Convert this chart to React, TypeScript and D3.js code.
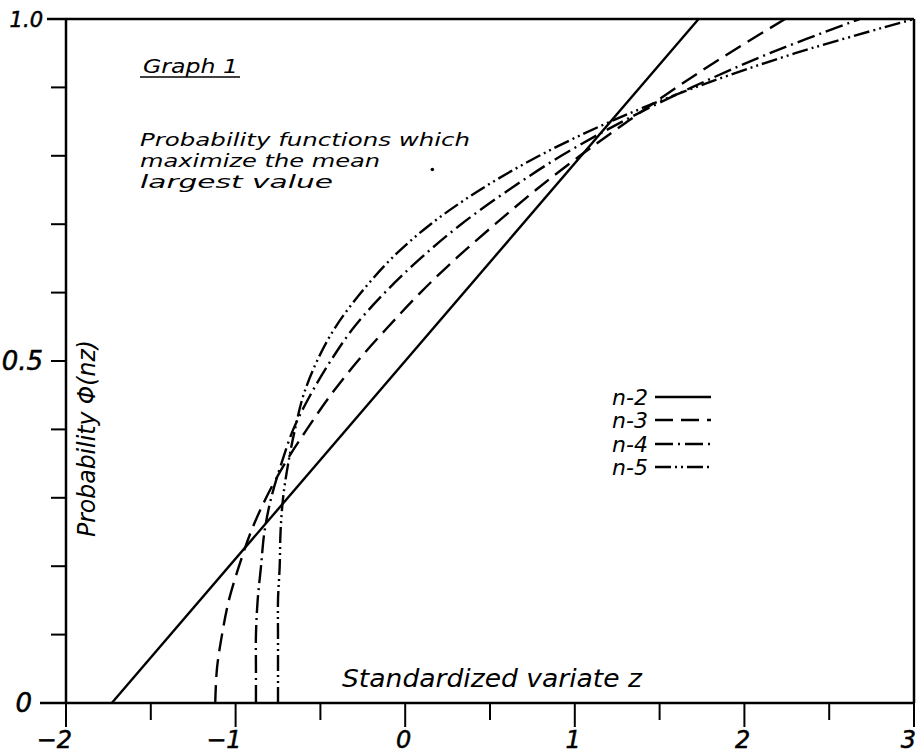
import React from "react";
import * as d3 from "d3";

// probability levels (y) at which z was read for the curved series
const phiLevels = [0, 0.05, 0.1, 0.15, 0.2, 0.25, 0.3, 0.35, 0.4, 0.45, 0.5, 0.55, 0.6, 0.65, 0.7, 0.75, 0.8, 0.85, 0.9, 0.95, 1];

// n = 2 is a straight line, read at its two ends
const phiN2 = [0, 1];
const zN2 = [-1.73, 1.73];

const zN3 = [-1.12, -1.11, -1.08, -1.04, -0.98, -0.91, -0.82, -0.71, -0.58, -0.44, -0.28, -0.1, 0.09, 0.3, 0.53, 0.77, 1.03, 1.31, 1.6, 1.91, 2.24];
const zN4 = [-0.88, -0.88, -0.88, -0.87, -0.85, -0.83, -0.79, -0.73, -0.66, -0.56, -0.44, -0.3, -0.12, 0.09, 0.33, 0.61, 0.92, 1.28, 1.69, 2.15, 2.68];
const zN5 = [-0.75, -0.75, -0.75, -0.75, -0.74, -0.735, -0.72, -0.69, -0.65, -0.6, -0.52, -0.41, -0.26, -0.08, 0.15, 0.44, 0.79, 1.21, 1.71, 2.3, 3.0];

const seriesNames = ["n-2", "n-3", "n-4", "n-5"];
const xTickLabels = ["−2", "−1", "0", "1", "2", "3"];
const yTickLabels = ["0", "0.5", "1.0"];

const dashes = ["none", "18,8", "18,5,2,5", "16,4,2,4,2,4"];

const font = "'DejaVu Sans', sans-serif";

export default function App() {
  const x = d3.scaleLinear().domain([-2, 3]).range([66, 914]);
  const y = d3.scaleLinear().domain([0, 1]).range([703, 19]);

  const line = d3
    .line<[number, number]>()
    .x((d) => x(d[0]))
    .y((d) => y(d[1]))
    .curve(d3.curveCatmullRom.alpha(0.5));

  const series: [number, number][][] = [
    zN2.map((z, i) => [z, phiN2[i]]),
    zN3.map((z, i) => [z, phiLevels[i]]),
    zN4.map((z, i) => [z, phiLevels[i]]),
    zN5.map((z, i) => [z, phiLevels[i]]),
  ];

  const xMajor = d3.range(-2, 3.01, 1);
  const xMinor = d3.range(-1.5, 3, 1);
  const yMinor = d3.range(0.1, 0.95, 0.1);
  const yLabelVals = [0, 0.5, 1];

  // legend rows
  const legendY = [397, 420, 444, 467];

  return (
    <svg
      width={920}
      height={755}
      style={{ position: "absolute", left: 0, top: 0, background: "#fff" }}
      fontFamily={font}
      fontStyle="italic"
    >
      <rect width={920} height={755} fill="#fff" />

      {/* frame */}
      <g stroke="#000" strokeWidth={2.5} fill="none">
        <line x1={x(-2)} x2={x(-2)} y1={y(1)} y2={y(0)} />
        <line x1={x(3)} x2={x(3)} y1={y(1)} y2={y(0)} />
        <line x1={40} x2={x(3)} y1={y(0)} y2={y(0)} />
        <line x1={47} x2={x(3)} y1={y(1)} y2={y(1)} />
      </g>

      {/* ticks */}
      <g stroke="#000" strokeWidth={2}>
        {xMajor.map((v) => (
          <line key={"xM" + v} x1={x(v)} x2={x(v)} y1={y(0)} y2={y(0) + 24} />
        ))}
        {xMinor.map((v) => (
          <line key={"xm" + v} x1={x(v)} x2={x(v)} y1={y(0)} y2={y(0) + 17} />
        ))}
        {yMinor.map((v) => (
          <line key={"ym" + v} x1={x(-2) - 15} x2={x(-2)} y1={y(v)} y2={y(v)} />
        ))}
      </g>

      {/* tick labels */}
      <g fontSize={24} fill="#000" stroke="#000" strokeWidth={0.5}>
        {xMajor.map((v, i) => (
          <text key={"xl" + v} x={Math.min(x(v) + 6, 916)} y={748} textAnchor="end">
            {xTickLabels[i]}
          </text>
        ))}
        {yLabelVals.map((v, i) => (
          <text
            key={"yl" + v}
            x={v === 0 ? 32 : 43}
            y={y(v) + (v === 1 ? 8 : 9)}
            textAnchor="end"
            fontSize={v === 1 ? 21 : 26}
          >
            {yTickLabels[i]}
          </text>
        ))}
      </g>

      {/* curves */}
      <g fill="none" stroke="#000" strokeWidth={2.4}>
        {series.map((s, i) => (
          <path key={seriesNames[i]} d={line(s) || ""} strokeDasharray={dashes[i]} />
        ))}
      </g>

      {/* stray mark on the original */}
      <circle cx={x(0.16)} cy={y(0.78)} r={1.8} fill="#000" />

      {/* titles */}
      <g fill="#000" fontSize={18}>
        <text x={143} y={73} fontSize={20} textLength={95} lengthAdjust="spacingAndGlyphs">
          Graph 1
        </text>
        <line x1={140} x2={240} y1={77} y2={77} stroke="#000" strokeWidth={1.6} />
        <text x={140} y={146} textLength={330} lengthAdjust="spacingAndGlyphs">
          Probability functions which
        </text>
        <text x={140} y={167} textLength={240} lengthAdjust="spacingAndGlyphs">
          maximize the mean
        </text>
        <text x={140} y={188} textLength={193} lengthAdjust="spacingAndGlyphs">
          largest value
        </text>
      </g>

      <text x={342} y={687} fontSize={25} textLength={300} lengthAdjust="spacingAndGlyphs" fill="#000">
        Standardized variate z
      </text>

      <text
        transform="translate(95,537) rotate(-90)"
        fontSize={25}
        textLength={197}
        lengthAdjust="spacingAndGlyphs"
        fill="#000"
      >
        Probability Φ(nz)
      </text>

      {/* legend */}
      <g fill="#000" fontSize={22}>
        {seriesNames.map((name, i) => (
          <g key={"lg" + name}>
            <text x={648} y={legendY[i] + 8} textAnchor="end">
              {name}
            </text>
            <line
              x1={655}
              x2={711}
              y1={legendY[i]}
              y2={legendY[i]}
              stroke="#000"
              strokeWidth={2.4}
              strokeDasharray={dashes[i]}
            />
          </g>
        ))}
      </g>
    </svg>
  );
}
